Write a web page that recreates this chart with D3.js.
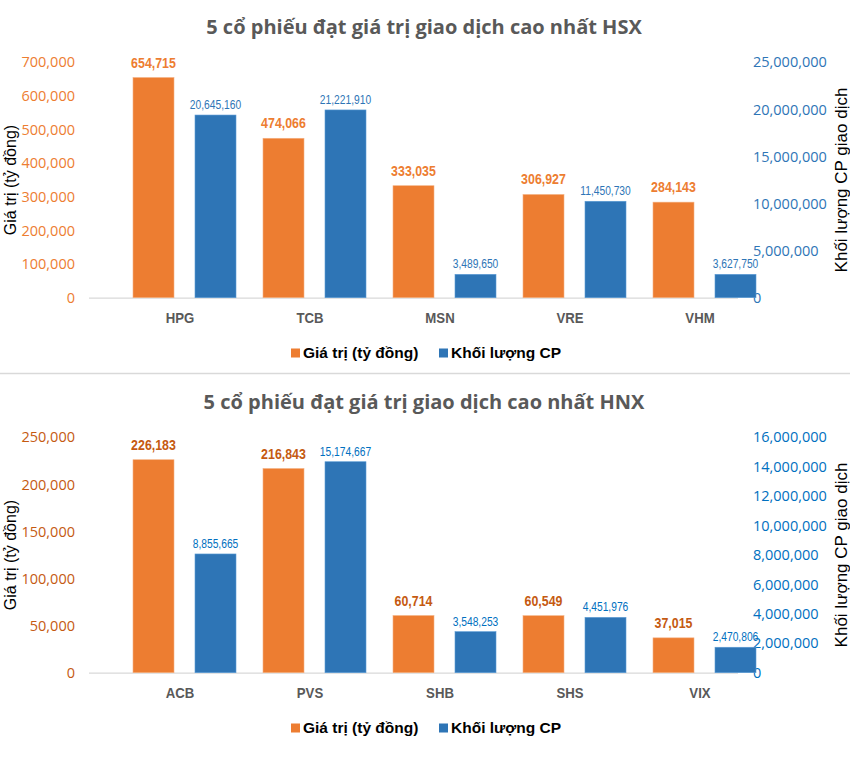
<!DOCTYPE html>
<html><head><meta charset="utf-8">
<script src="https://cdn.jsdelivr.net/npm/d3@7"></script>
<style>body{margin:0;background:#fff}svg{display:block}</style>
</head><body>
<svg id="c" width="850" height="774"></svg>
<script>
// ---- data ----
const hsxCategories = ["HPG", "TCB", "MSN", "VRE", "VHM"];
const hsxValue = [654715, 474066, 333035, 306927, 284143];
const hsxVolume = [20645160, 21221910, 3489650, 11450730, 3627750];          // printed labels
const hsxVolumeBar = [19400000, 19940000, 2480000, 10240000, 2480000];        // bar heights as drawn
const hsxLeftTicks = [0, 100000, 200000, 300000, 400000, 500000, 600000, 700000];
const hsxRightTicks = [0, 5000000, 10000000, 15000000, 20000000, 25000000];

const hnxCategories = ["ACB", "PVS", "SHB", "SHS", "VIX"];
const hnxValue = [226183, 216843, 60714, 60549, 37015];
const hnxVolume = [8855665, 15174667, 3548253, 4451976, 2470806];
const hnxVolumeBar = [8070000, 14340000, 2790000, 3760000, 1730000];
const hnxLeftTicks = [0, 50000, 100000, 150000, 200000, 250000];
const hnxRightTicks = [0, 2000000, 4000000, 6000000, 8000000, 10000000, 12000000, 14000000, 16000000];

const titles = ["5 cổ phiếu đạt giá trị giao dịch cao nhất HSX", "5 cổ phiếu đạt giá trị giao dịch cao nhất HNX"];
const legendLabels = ["Giá trị (tỷ đồng)", "Khối lượng CP"];
const leftTitle = "Giá trị (tỷ đồng)";
const rightTitle = "Khối lượng CP giao dịch";

const ORANGE = "#ED7D31", BLUE = "#2E75B6";
const fmt = d3.format(",");
const svg = d3.select("#c");

svg.append("line").attr("x1", 0).attr("x2", 850).attr("y1", 373.5).attr("y2", 373.5)
  .attr("stroke", "#D9D9D9").attr("stroke-width", 1.5);

function drawChart(o) {
  const g = svg.append("g").attr("transform", `translate(0,${o.dy})`);
  const x = d3.scaleBand(o.cats, [115, 765]);
  const yL = d3.scaleLinear([0, o.leftTicks[o.leftTicks.length - 1]], [297.7, 62.3]);
  const yR = d3.scaleLinear([0, o.rightTicks[o.rightTicks.length - 1]], [297.7, 62.3]);
  const cx = c => x(c) + x.bandwidth() / 2;

  // title
  g.append("text").attr("x", 424).attr("y", 34.3).attr("text-anchor", "middle")
    .attr("font-family", "'Open Sans', sans-serif").attr("font-weight", 700)
    .attr("font-size", 20).attr("fill", "#595959").text(o.title);

  // left axis
  const la = g.append("g").attr("transform", "translate(75,0)")
    .call(d3.axisLeft(yL).tickValues(o.leftTicks).tickFormat(fmt).tickSize(0).tickPadding(0));
  la.select(".domain").remove();
  la.selectAll("text").attr("font-family", "'Open Sans', sans-serif").attr("font-size", 14.5)
    .attr("fill", o.leftColor);

  // right axis
  const ra = g.append("g").attr("transform", "translate(753,0)")
    .call(d3.axisRight(yR).tickValues(o.rightTicks).tickFormat(fmt).tickSize(0).tickPadding(0));
  ra.select(".domain").remove();
  ra.selectAll("text").attr("font-family", "'Open Sans', sans-serif").attr("font-size", 14.5)
    .attr("fill", o.rightColor);

  // baseline
  g.append("line").attr("x1", 89).attr("x2", 738).attr("y1", yL(0) + 0.5).attr("y2", yL(0) + 0.5)
    .attr("stroke", "#D9D9D9").attr("stroke-width", 1.2);

  // bars
  g.selectAll(".ob").data(o.cats).join("rect")
    .attr("x", c => cx(c) - 47).attr("width", 41)
    .attr("y", (c, i) => yL(o.value[i])).attr("height", (c, i) => yL(0) - yL(o.value[i]))
    .attr("fill", ORANGE).attr("stroke", "#F4B183").attr("stroke-width", 0.6);
  g.selectAll(".bb").data(o.cats).join("rect")
    .attr("x", c => cx(c) + 15).attr("width", 41)
    .attr("y", (c, i) => yR(o.volBar[i])).attr("height", (c, i) => yR(0) - yR(o.volBar[i]))
    .attr("fill", BLUE).attr("stroke", "#5B9BD5").attr("stroke-width", 0.6);

  // data labels (condensed)
  g.selectAll(".ol").data(o.cats).join("text")
    .attr("transform", (c, i) => `translate(${cx(c) - 26.5},${yL(o.value[i]) - 10}) scale(0.8,1)`)
    .attr("text-anchor", "middle").attr("font-family", "'Liberation Sans', Arial, sans-serif")
    .attr("font-weight", 700).attr("font-size", 15.5).attr("fill", o.orangeLabel)
    .text((c, i) => fmt(o.value[i]));
  g.selectAll(".bl").data(o.cats).join("text")
    .attr("transform", (c, i) => `translate(${cx(c) + 35.5},${yR(o.volBar[i]) - 6}) scale(0.76,1)`)
    .attr("text-anchor", "middle").attr("font-family", "'Liberation Sans', Arial, sans-serif")
    .attr("font-size", 13.5).attr("fill", o.blueLabel)
    .text((c, i) => fmt(o.vol[i]));

  // category labels
  g.selectAll(".cl").data(o.cats).join("text")
    .attr("transform", c => `translate(${cx(c)},318) scale(0.88,1)`).attr("dy", "0.35em").attr("text-anchor", "middle")
    .attr("font-family", "'Liberation Sans', Arial, sans-serif").attr("font-weight", 700)
    .attr("font-size", 15).attr("fill", "#595959").text(c => c);

  // axis titles
  g.append("text").attr("transform", "translate(10,180) rotate(-90)").attr("text-anchor", "middle")
    .attr("dy", "0.35em").attr("font-family", "'Liberation Sans', Arial, sans-serif")
    .attr("font-size", 16).attr("fill", "#000").text(leftTitle);
  g.append("text").attr("transform", "translate(841,180) rotate(-90)").attr("text-anchor", "middle")
    .attr("dy", "0.35em").attr("font-family", "'Liberation Sans', Arial, sans-serif")
    .attr("font-size", 17).attr("fill", "#000").text(rightTitle);

  // legend
  const ly = 353;
  const items = [{x: 291, c: ORANGE, t: legendLabels[0]}, {x: 439, c: BLUE, t: legendLabels[1]}];
  items.forEach(it => {
    g.append("rect").attr("x", it.x).attr("y", ly - 4.5).attr("width", 9).attr("height", 9).attr("fill", it.c);
    g.append("text").attr("x", it.x + 12).attr("y", ly).attr("dy", "0.35em")
      .attr("font-family", "'Liberation Sans', Arial, sans-serif").attr("font-weight", 700)
      .attr("font-size", 15.5).attr("fill", "#000").text(it.t);
  });
}

drawChart({dy: 0, cats: hsxCategories, value: hsxValue, vol: hsxVolume, volBar: hsxVolumeBar,
  leftTicks: hsxLeftTicks, rightTicks: hsxRightTicks, title: titles[0],
  leftColor: "#ED7D31", rightColor: "#2E75B6", orangeLabel: "#ED7D31", blueLabel: "#2E75B6"});
drawChart({dy: 375, cats: hnxCategories, value: hnxValue, vol: hnxVolume, volBar: hnxVolumeBar,
  leftTicks: hnxLeftTicks, rightTicks: hnxRightTicks, title: titles[1],
  leftColor: "#C55A11", rightColor: "#0070C0", orangeLabel: "#C55A11", blueLabel: "#0070C0"});
</script>
</body></html>
